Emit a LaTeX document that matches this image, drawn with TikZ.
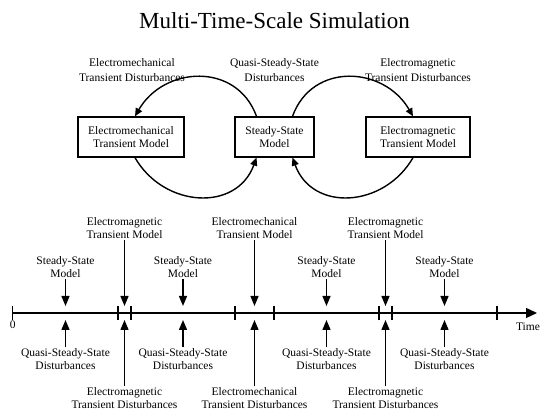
\documentclass[tikz,border=0pt]{standalone}
\usepackage{fontspec}
\setmainfont{Liberation Serif}
\usepackage{tikz}
\usetikzlibrary{arrows.meta,positioning}
\newcommand{\labelSize}{\fontsize{11.5}{13}\selectfont}
\newcommand{\titleSize}{\fontsize{23}{27}\selectfont}
\tikzset{
  modelBox/.style={
    rectangle,
    draw=black,
    line width=1.4pt,
    minimum height=40pt,
    inner xsep=0pt,
    align=center,
    font=\fontsize{11.5}{13.5}\selectfont
  },
  eventLabel/.style={
    align=center,
    inner sep=1pt,
    font=\labelSize
  },
  topLabel/.style={
    align=center,
    inner sep=1pt,
    font=\fontsize{11.5}{15}\selectfont
  },
  arrow/.style={
    -{Triangle[length=10pt,width=8pt]},
    line width=1.4pt
  },
  loopArrow/.style={
    -{Triangle[length=8pt,width=7pt]},
    line width=1.4pt
  },
  timeAxis/.style={
    -{Triangle[length=11pt,width=10pt]},
    line width=1.4pt
  },
  tickMark/.style={
    line width=1.4pt
  }
}

\begin{document}
\begin{tikzpicture}[x=1pt,y=1pt]
  \useasboundingbox (0,0) rectangle (550,419);
  \node[font=\titleSize,anchor=base] (title) at (274.5,390.7) {Multi-Time-Scale Simulation};

  % models and the disturbances that switch between them
  \node[modelBox,minimum width=106pt] (emech) at (131,282) {Electromechanical\\Transient Model};
  \node[modelBox,minimum width=79pt] (steady) at (274.5,282) {Steady-State\\Model};
  \node[modelBox,minimum width=104pt] (emag) at (418,282) {Electromagnetic\\Transient Model};
  \node[topLabel] (emechDist) at (132,348.5) {Electromechanical\\Transient Disturbances};
  \node[topLabel] (qssDist) at (274.5,348.5) {Quasi-Steady-State\\Disturbances};
  \node[topLabel] (emagDist) at (418,348.5) {Electromagnetic\\Transient Disturbances};
  \draw[loopArrow] ([xshift=-18pt]steady.north) to[out=110,in=60,distance=58pt] ([xshift=4pt]emech.north);
  \draw[loopArrow] ([xshift=18pt]steady.north) to[out=70,in=120,distance=58pt] ([xshift=-5pt]emag.north);
  \draw[loopArrow] ([xshift=4pt]emech.south) to[out=-60,in=-110,distance=58pt] ([xshift=-18pt]steady.south);
  \draw[loopArrow] ([xshift=-5pt]emag.south) to[out=-120,in=-70,distance=58pt] ([xshift=18pt]steady.south);

  % time axis
  \coordinate (zero) at (12.7,106);
  \coordinate (tip) at (537,106);
  \coordinate (hi) at (0,113);
  \coordinate (lo) at (0,99);
  \draw[timeAxis] (zero) -- (tip);
  \foreach \t in {12.7,118,131,235,274,379,392,497}
    \draw[tickMark] (\t,99) -- (\t,113);
  \node[eventLabel] (zeroLabel) at (12.7,94) {0};
  \node[eventLabel] (timeLabel) at (528,92.3) {Time};

  % models along the time axis
  \node[eventLabel] (ssA) at (65.5,151.5) {Steady-State\\Model};
  \node[eventLabel] (emA) at (124.5,190.5) {Electromagnetic\\Transient Model};
  \node[eventLabel] (ssB) at (183,151.5) {Steady-State\\Model};
  \node[eventLabel] (emechA) at (254.5,190.5) {Electromechanical\\Transient Model};
  \node[eventLabel] (ssC) at (326.5,151.5) {Steady-State\\Model};
  \node[eventLabel] (emB) at (385.5,190.5) {Electromagnetic\\Transient Model};
  \node[eventLabel] (ssD) at (444.5,151.5) {Steady-State\\Model};

  % disturbances along the time axis
  \node[eventLabel] (qssA) at (65.5,60) {Quasi-Steady-State\\Disturbances};
  \node[eventLabel] (emdA) at (124.5,21) {Electromagnetic\\Transient Disturbances};
  \node[eventLabel] (qssB) at (183,60) {Quasi-Steady-State\\Disturbances};
  \node[eventLabel] (emechdA) at (254.5,21) {Electromechanical\\Transient Disturbances};
  \node[eventLabel] (qssC) at (326.5,60) {Quasi-Steady-State\\Disturbances};
  \node[eventLabel] (emdB) at (385.5,21) {Electromagnetic\\Transient Disturbances};
  \node[eventLabel] (qssD) at (444.5,60) {Quasi-Steady-State\\Disturbances};

  \draw[arrow] (ssA) -- (ssA |- hi);
  \draw[arrow] (emA) -- (emA |- hi);
  \draw[arrow] (ssB) -- (ssB |- hi);
  \draw[arrow] (emechA) -- (emechA |- hi);
  \draw[arrow] (ssC) -- (ssC |- hi);
  \draw[arrow] (emB) -- (emB |- hi);
  \draw[arrow] (ssD) -- (ssD |- hi);
  \draw[arrow] (qssA) -- (qssA |- lo);
  \draw[arrow] (emdA) -- (emdA |- lo);
  \draw[arrow] (qssB) -- (qssB |- lo);
  \draw[arrow] (emechdA) -- (emechdA |- lo);
  \draw[arrow] (qssC) -- (qssC |- lo);
  \draw[arrow] (emdB) -- (emdB |- lo);
  \draw[arrow] (qssD) -- (qssD |- lo);
\end{tikzpicture}
\end{document}
